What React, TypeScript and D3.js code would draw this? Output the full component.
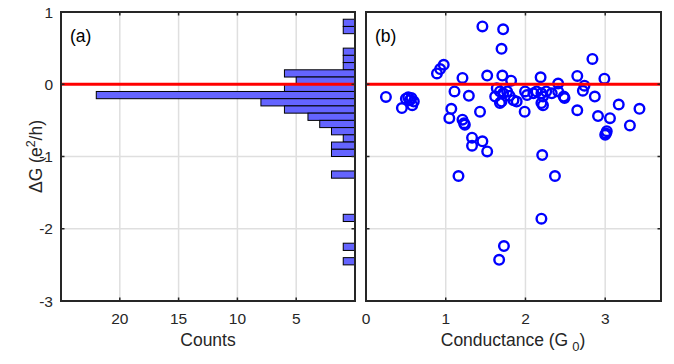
import * as d3 from "d3";

// histogram of ΔG (bin lower edge, count), bin width 0.1
const binStart = [0.8, 0.7, 0.4, 0.3, 0.2, 0.1, 0.0, -0.1, -0.2, -0.3, -0.4, -0.5, -0.6, -0.7, -0.8, -0.9, -1.0, -1.3, -1.9, -2.3, -2.5];
const binCount = [1, 1, 1, 1, 1, 6, 5, 6, 22, 8, 6, 4, 3, 2, 1, 2, 2, 2, 1, 1, 1];
const binWidth = 0.1;

// scatter: conductance (G0) vs ΔG (e^2/h)
const conductance = [
  1.46, 1.72, 1.70, 2.84, 0.975, 0.93, 0.89, 1.21, 1.52, 1.71, 1.82, 2.19, 2.65, 2.99, 2.41, 2.74,
  0.25, 0.45, 0.53, 0.57, 0.55, 0.60, 0.58, 0.50,
  1.11, 1.29, 1.07, 1.045, 1.21, 1.23, 1.24, 1.43, 1.33, 1.33, 1.46, 1.52, 1.99, 2.21,
  2.65, 2.87, 2.91, 3.06, 3.01, 3.02, 3.00, 3.17, 3.31, 3.43, 2.49, 2.72, 2.22,
  1.16, 2.37, 2.20, 1.73, 1.67,
  1.64, 1.62, 1.68, 1.72, 1.77, 1.80, 1.70, 1.85, 1.89, 1.995, 2.02, 2.10, 2.14, 2.20, 2.22, 2.26, 2.33, 2.41, 2.48, 2.20, 1.68,
];
const deltaG = [
  0.80, 0.76, 0.49, 0.35, 0.27, 0.21, 0.15, 0.087, 0.12, 0.12, 0.05, 0.097, 0.115, 0.077, 0.01, -0.02,
  -0.176, -0.33, -0.18, -0.19, -0.22, -0.24, -0.29, -0.20,
  -0.10, -0.16, -0.34, -0.47, -0.49, -0.54, -0.56, -0.38, -0.74, -0.85, -0.79, -0.93, -0.38, -0.98,
  -0.36, -0.17, -0.44, -0.47, -0.68, -0.65, -0.70, -0.28, -0.57, -0.34, -0.19, -0.09, -0.29,
  -1.27, -1.27, -1.86, -2.24, -2.43,
  -0.055, -0.17, -0.10, -0.125, -0.10, -0.16, -0.24, -0.22, -0.24, -0.10, -0.15, -0.125, -0.10, -0.125, -0.17, -0.10, -0.125, -0.10, -0.17, -0.26, -0.26,
];

const yTicks = [1, 0, -1, -2, -3];
const countTicks = [20, 15, 10, 5];
const condTicks = [0, 1, 2, 3];

const W = 674;
const H = 364;
const top = 12;
const bottom = 301;
const font = "'Liberation Sans', Arial, Helvetica, sans-serif";
const axisColor = "#262626";
const gridColor = "#dfdfdf";
const tickLen = 3.5;

export default function App() {
  const y = d3.scaleLinear().domain([-3, 1]).range([bottom, top]);
  const xc = d3.scaleLinear().domain([25, 0]).range([61, 355]);
  const xg = d3.scaleLinear().domain([0, 3.7]).range([366, 661]);

  const points = conductance.map((g, i) => ({ g, d: deltaG[i] }));
  const bins = binStart.map((s, i) => ({ s, n: binCount[i] }));

  const panel = (x: d3.ScaleLinear<number, number>, xt: number[], label: string) => {
    const [x0, x1] = [Math.min(...x.range()), Math.max(...x.range())];
    return (
      <g>
        {xt.map((t) => (
          <line key={"gx" + t} x1={x(t)} x2={x(t)} y1={top} y2={bottom} stroke={gridColor} strokeWidth={1.5} />
        ))}
        {yTicks.map((t) => (
          <line key={"gy" + t} x1={x0} x2={x1} y1={y(t)} y2={y(t)} stroke={gridColor} strokeWidth={1.5} />
        ))}
        <text x={x0 + 9} y={41.5} fontSize={17.5} fontFamily={font} fill="#000">
          {label}
        </text>
      </g>
    );
  };

  const frame = (x: d3.ScaleLinear<number, number>, xt: number[]) => {
    const [x0, x1] = [Math.min(...x.range()), Math.max(...x.range())];
    return (
      <g>
        {xt.map((t) => (
          <g key={"tx" + t}>
            <line x1={x(t)} x2={x(t)} y1={bottom} y2={bottom - tickLen} stroke={axisColor} strokeWidth={1.5} />
            <line x1={x(t)} x2={x(t)} y1={top} y2={top + tickLen} stroke={axisColor} strokeWidth={1.5} />
          </g>
        ))}
        {yTicks.map((t) => (
          <g key={"ty" + t}>
            <line x1={x0} x2={x0 + tickLen} y1={y(t)} y2={y(t)} stroke={axisColor} strokeWidth={1.5} />
            <line x1={x1} x2={x1 - tickLen} y1={y(t)} y2={y(t)} stroke={axisColor} strokeWidth={1.5} />
          </g>
        ))}
        <rect x={x0} y={top} width={x1 - x0} height={bottom - top} fill="none" stroke={axisColor} strokeWidth={2} />
        {xt.map((t) => (
          <text key={"lx" + t} x={x(t)} y={324} textAnchor="middle" fontSize={15.5} fontFamily={font} fill="#262626">
            {t}
          </text>
        ))}
      </g>
    );
  };

  return (
    <svg width={W} height={H} style={{ position: "absolute", left: 0, top: 0, background: "#fff" }}>
      <rect width={W} height={H} fill="#fff" />
      {panel(xc, countTicks, "(a)")}
      {panel(xg, condTicks, "(b)")}

      {/* histogram */}
      {bins.map((b, i) => (
        <rect
          key={"b" + i}
          x={xc(b.n)}
          y={y(b.s + binWidth)}
          width={xc(0) - xc(b.n)}
          height={y(b.s) - y(b.s + binWidth)}
          fill="#6464ff"
          stroke="#000"
          strokeWidth={1}
        />
      ))}

      {/* scatter */}
      {points.map((p, i) => (
        <circle key={"p" + i} cx={xg(p.g)} cy={y(p.d)} r={4.8} fill="none" stroke="#0000ff" strokeWidth={2.4} />
      ))}

      {/* zero lines */}
      <line x1={61} x2={355} y1={y(0)} y2={y(0)} stroke="#ff0000" strokeWidth={3} />
      <line x1={366} x2={661} y1={y(0)} y2={y(0)} stroke="#ff0000" strokeWidth={3} />

      {frame(xc, countTicks)}
      {frame(xg, condTicks)}

      {yTicks.map((t) => (
        <text key={"ly" + t} x={53} y={y(t) + 5.5} textAnchor="end" fontSize={15.5} fontFamily={font} fill="#262626">
          {t}
        </text>
      ))}

      <text x={208} y={346} textAnchor="middle" fontSize={17.5} fontFamily={font} fill="#262626">
        Counts
      </text>
      <text x={513} y={346} textAnchor="middle" fontSize={17.5} fontFamily={font} fill="#262626">
        Conductance (G
        <tspan dx={4} dy={5} fontSize={13}>0</tspan>
        <tspan dy={-5}>)</tspan>
      </text>
      <text
        transform={`translate(42,${(top + bottom) / 2}) rotate(-90)`}
        textAnchor="middle"
        fontSize={17.5}
        fontFamily={font}
        fill="#262626"
      >
        ΔG (e<tspan dy={-7} fontSize={12.5}>2</tspan>
        <tspan dy={7}>/h)</tspan>
      </text>
    </svg>
  );
}
